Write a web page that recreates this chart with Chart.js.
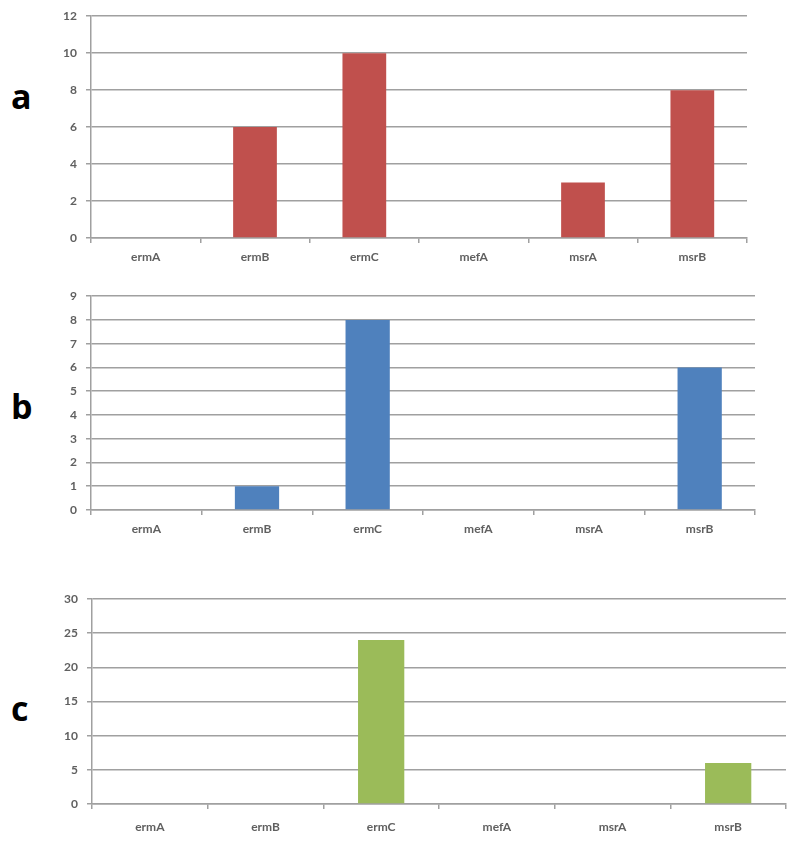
<!DOCTYPE html>
<html>
<head>
<meta charset="utf-8">
<script src="https://cdn.jsdelivr.net/npm/chart.js@4.4.1/dist/chart.umd.min.js"></script>
<style>
  html, body { margin: 0; padding: 0; background: #fff; }
  body { width: 800px; height: 850px; position: relative; overflow: hidden; }
  .wrap { position: absolute; left: 0; width: 800px; }
  .lbl { position: absolute; font-family: "Open Sans", "DejaVu Sans", sans-serif; font-weight: bold; font-size: 34px; color: #000; line-height: 1; }
</style>
</head>
<body>
<div class="lbl" style="left:11px; top:79px;">a</div>
<div class="lbl" style="left:11px; top:389px;">b</div>
<div class="lbl" style="left:11px; top:691px;">c</div>
<div class="wrap" style="top:0px; height:268px;"><canvas id="ca"></canvas></div>
<div class="wrap" style="top:280px; height:260px;"><canvas id="cb"></canvas></div>
<div class="wrap" style="top:580px; height:270px;"><canvas id="cc"></canvas></div>
<script>
const categories = ["ermA", "ermB", "ermC", "mefA", "msrA", "msrB"];
const valuesA = [0, 6, 10, 0, 3, 8];
const valuesB = [0, 1, 8, 0, 0, 6];
const valuesC = [0, 0, 24, 0, 0, 6];
const yMaxA = 12, yStepA = 2;
const yMaxB = 9, yStepB = 1;
const yMaxC = 30, yStepC = 5;

const gridColor = '#a0a0a0';
const tickFont = { family: "Lato, 'Open Sans', sans-serif", size: 12, weight: 'bold' };
const tickColor = '#606060';

function makeChart(id, h, values, color, yMax, yStep, pad, yWidth, xHeight, xPad) {
  const el = document.getElementById(id);
  el.style.width = '800px';
  el.style.height = h + 'px';
  return new Chart(el, {
    type: 'bar',
    data: {
      labels: categories,
      datasets: [{
        data: values,
        backgroundColor: color,
        borderWidth: 0,
        barPercentage: 0.4,
        categoryPercentage: 1.0
      }]
    },
    options: {
      responsive: false,
      maintainAspectRatio: false,
      animation: false,
      devicePixelRatio: 1,
      layout: { autoPadding: false, padding: pad },
      plugins: { legend: { display: false }, tooltip: { enabled: false } },
      scales: {
        x: {
          grid: { offset: true, drawOnChartArea: false, drawTicks: true, tickLength: 5, color: gridColor, lineWidth: 1.5 },
          border: { display: true, color: gridColor, width: 1.5 },
          ticks: { font: tickFont, color: tickColor, padding: xPad },
          afterFit: s => { s.height = xHeight; }
        },
        y: {
          min: 0, max: yMax,
          grid: { color: gridColor, lineWidth: 1.5, drawTicks: true, tickLength: 5 },
          border: { display: true, color: gridColor, width: 1.5 },
          ticks: { stepSize: yStep, font: tickFont, color: tickColor, padding: 9 },
          afterFit: s => { s.width = yWidth; }
        }
      }
    }
  });
}

makeChart('ca', 268, valuesA, '#C0504D', yMaxA, yStepA, { left: 0, right: 53, top: 14, bottom: 0 }, 91, 30, 7);
makeChart('cb', 260, valuesB, '#4F81BD', yMaxB, yStepB, { left: 0, right: 45, top: 16, bottom: 0 }, 91, 30, 7);
makeChart('cc', 270, valuesC, '#9BBB59', yMaxC, yStepC, { left: 0, right: 14, top: 19, bottom: 0 }, 92, 46, 11);
</script>
</body>
</html>
